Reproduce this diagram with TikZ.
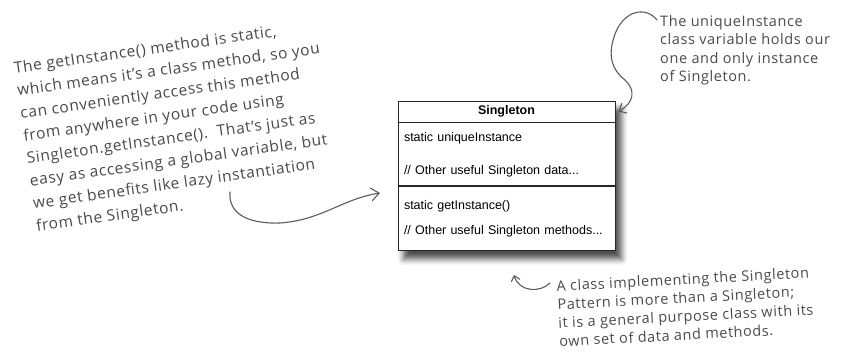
\documentclass[tikz,border=0pt]{standalone}
\usepackage{fontspec}
\setmainfont{Liberation Sans}
\newfontfamily\notefont[LetterSpace=4]{Open Sans}
\usetikzlibrary{arrows.meta, positioning, fit, backgrounds, shadows.blur}
\definecolor{notegray}{HTML}{4A4A4A}
\definecolor{handgray}{HTML}{5C5C5C}

\begin{document}
\begin{tikzpicture}[
  x=1pt, y=-1pt,
  font=\fontsize{12.5}{15}\selectfont,
  umlpart/.style={draw=black!85, line width=0.8pt, fill=white, minimum width=217pt,
                  inner xsep=6pt, inner ysep=0pt, text width=205pt, align=left},
  note/.style={text=notegray, align=left, inner sep=0pt, anchor=north west},
  hand/.style={draw=handgray, line width=1.1pt, line cap=round,
               -{Straight Barb[length=8pt, width=13pt]}}
]
\useasboundingbox (0,0) rectangle (858,356);

%% Singleton class box
\node[umlpart, minimum height=21pt, align=center] (head) at (506.5,111.5) {\textbf{Singleton}};
\node[umlpart, minimum height=63pt, below=0pt of head] (attrs)
  {static uniqueInstance\\[18pt]// Other useful Singleton data...};
\node[umlpart, minimum height=64pt, below=0pt of attrs] (meths)
  {static getInstance()\\[10pt]// Other useful Singleton methods...};

\begin{pgfonlayer}{background}
\node[fit=(head)(meths), inner sep=0pt, fill=white,
      blur shadow={shadow xshift=6pt, shadow yshift=-8pt, shadow blur radius=6pt,
                   shadow opacity=70}] (umlbox) {};
\end{pgfonlayer}

%% handwritten notes
\node[note, font=\notefont\fontsize{15.5}{22.8}\selectfont, rotate=8] (lazynote) at (13,61.5)
  {The getInstance() method is static,\\
   which means it’s a class method, so you\\
   can conveniently access this method\\
   from anywhere in your code using\\
   Singleton.getInstance().\ \ That’s just as\\
   easy as accessing a global variable, but\\
   we get benefits like lazy instantiation\\
   from the Singleton.};
\node[note, font=\notefont\fontsize{14.5}{18.5}\selectfont] (uinote) at (660,15)
  {The uniqueInstance\\
   class variable holds our\\
   one and only instance\\
   of Singleton.};
\node[note, font=\notefont\fontsize{14.5}{18.5}\selectfont, rotate=3] (classnote) at (556,280)
  {A class implementing the Singleton\\
   Pattern is more than a Singleton;\\
   it is a general purpose class with its\\
   own set of data and methods.};

%% hand-drawn arrows
\coordinate (lazytail) at (230,192);
\coordinate (lazytip) at (380,193);
\coordinate (uitail) at (657,20);
\coordinate (classtail) at (550,283);
\coordinate (classtip) at (514,275);
\draw[hand] (lazytail) .. controls (228,216) and (252,224) .. (280,223)
  .. controls (322,220) and (342,199) .. (lazytip);
\draw[hand, -{Straight Barb[length=6pt, width=11pt]}] (uitail)
  .. controls (646,6) and (624,10) .. (615,34)
  .. controls (607,56) and (612,70) .. (625,80)
  .. controls (636,90) and (634,103) .. ([xshift=3pt]head.east);
\draw[hand, -{Straight Barb[length=5pt, width=9pt]}] (classtail)
  .. controls (540,293) and (519,292) .. (classtip);

\end{tikzpicture}
\end{document}
